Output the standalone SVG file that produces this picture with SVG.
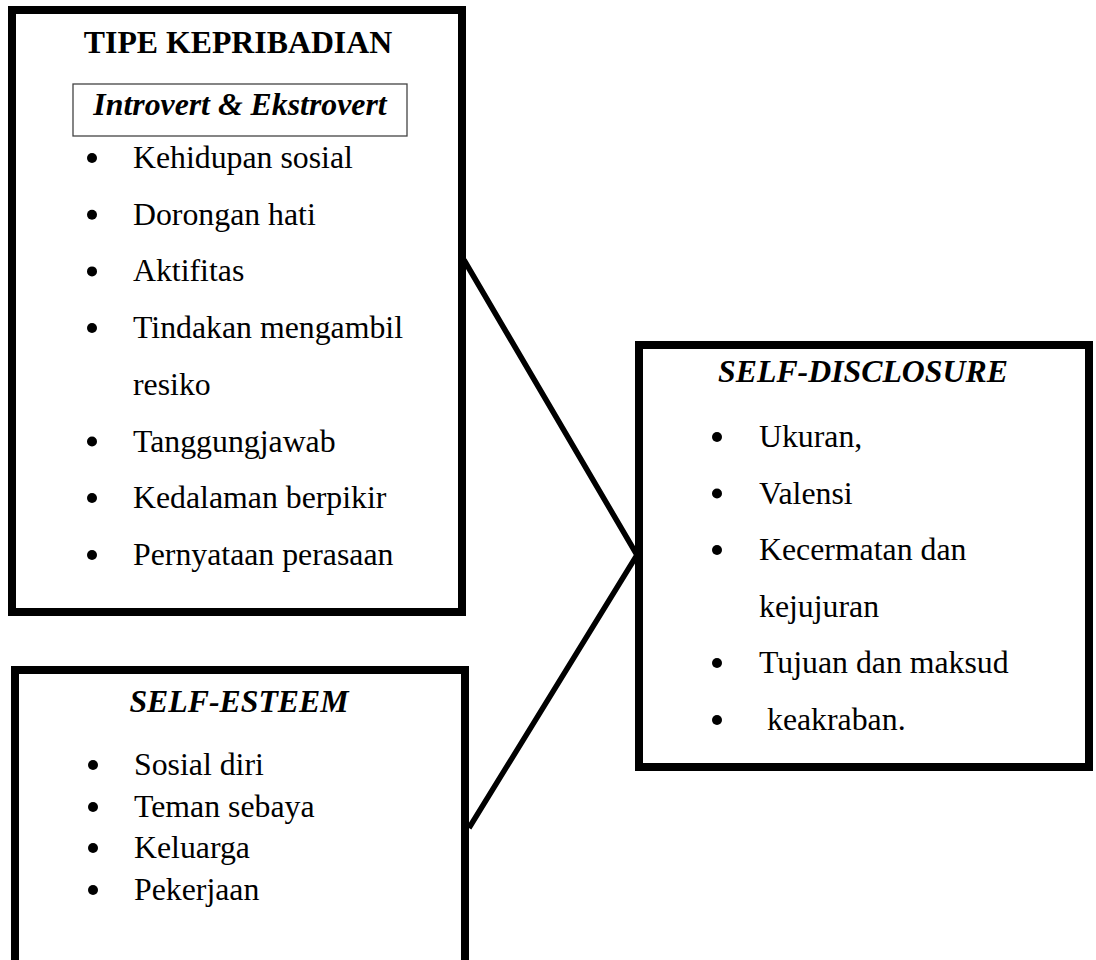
<svg xmlns="http://www.w3.org/2000/svg" width="1096" height="960" viewBox="0 0 1096 960">
<style>
.box{fill:#fff;stroke:#000;stroke-width:8}
.t{font-family:"Liberation Serif","Times New Roman",serif;font-size:31.8px;fill:#000}
.b{font-weight:bold}
.bi{font-weight:bold;font-style:italic}
.c{text-anchor:middle}
.conn{fill:none;stroke:#000;stroke-width:5.5}
</style>
<rect width="1096" height="960" fill="#fff"/>
<g id="tipe-kepribadian">
<rect class="box" x="12" y="10" width="450" height="602"/>
<text class="t b c" x="238" y="53">TIPE KEPRIBADIAN</text>
<rect x="73" y="84" width="334" height="52" fill="none" stroke="#444" stroke-width="1.3"/>
<text class="t bi c" x="240" y="115">Introvert &amp; Ekstrovert</text>
<g fill="#000">
<circle cx="92" cy="158" r="5"/><circle cx="92" cy="214.7" r="5"/><circle cx="92" cy="271.4" r="5"/><circle cx="92" cy="328" r="5"/><circle cx="92" cy="441.5" r="5"/><circle cx="92" cy="498" r="5"/><circle cx="92" cy="555" r="5"/>
</g>
<text class="t" x="133" y="168">Kehidupan sosial</text>
<text class="t" x="133" y="224.7">Dorongan hati</text>
<text class="t" x="133" y="281.4">Aktifitas</text>
<text class="t" x="133" y="338">Tindakan mengambil</text>
<text class="t" x="133" y="394.8">resiko</text>
<text class="t" x="133" y="451.5">Tanggungjawab</text>
<text class="t" x="133" y="508">Kedalaman berpikir</text>
<text class="t" x="133" y="565">Pernyataan perasaan</text>
</g>
<g id="self-esteem">
<rect class="box" x="15" y="670" width="450" height="320"/>
<text class="t bi c" x="239" y="712">SELF-ESTEEM</text>
<g fill="#000">
<circle cx="93" cy="765" r="5"/><circle cx="93" cy="807" r="5"/><circle cx="93" cy="848" r="5"/><circle cx="93" cy="890" r="5"/>
</g>
<text class="t" x="134" y="775">Sosial diri</text>
<text class="t" x="134" y="817">Teman sebaya</text>
<text class="t" x="134" y="858">Keluarga</text>
<text class="t" x="134" y="900">Pekerjaan</text>
</g>
<g id="self-disclosure">
<rect class="box" x="639" y="345" width="450" height="422"/>
<text class="t bi c" x="863" y="382">SELF-DISCLOSURE</text>
<g fill="#000">
<circle cx="717" cy="437" r="5"/><circle cx="717" cy="493.5" r="5"/><circle cx="717" cy="550" r="5"/><circle cx="717" cy="663" r="5"/><circle cx="717" cy="720" r="5"/>
</g>
<text class="t" x="759" y="447">Ukuran,</text>
<text class="t" x="759" y="503.5">Valensi</text>
<text class="t" x="759" y="560">Kecermatan dan</text>
<text class="t" x="759" y="616.5">kejujuran</text>
<text class="t" x="759" y="673">Tujuan dan maksud</text>
<text class="t" x="767" y="730">keakraban.</text>
</g>
<g id="connectors">
<polyline class="conn" points="464,260 637,555 469,828"/>
</g>
</svg>
